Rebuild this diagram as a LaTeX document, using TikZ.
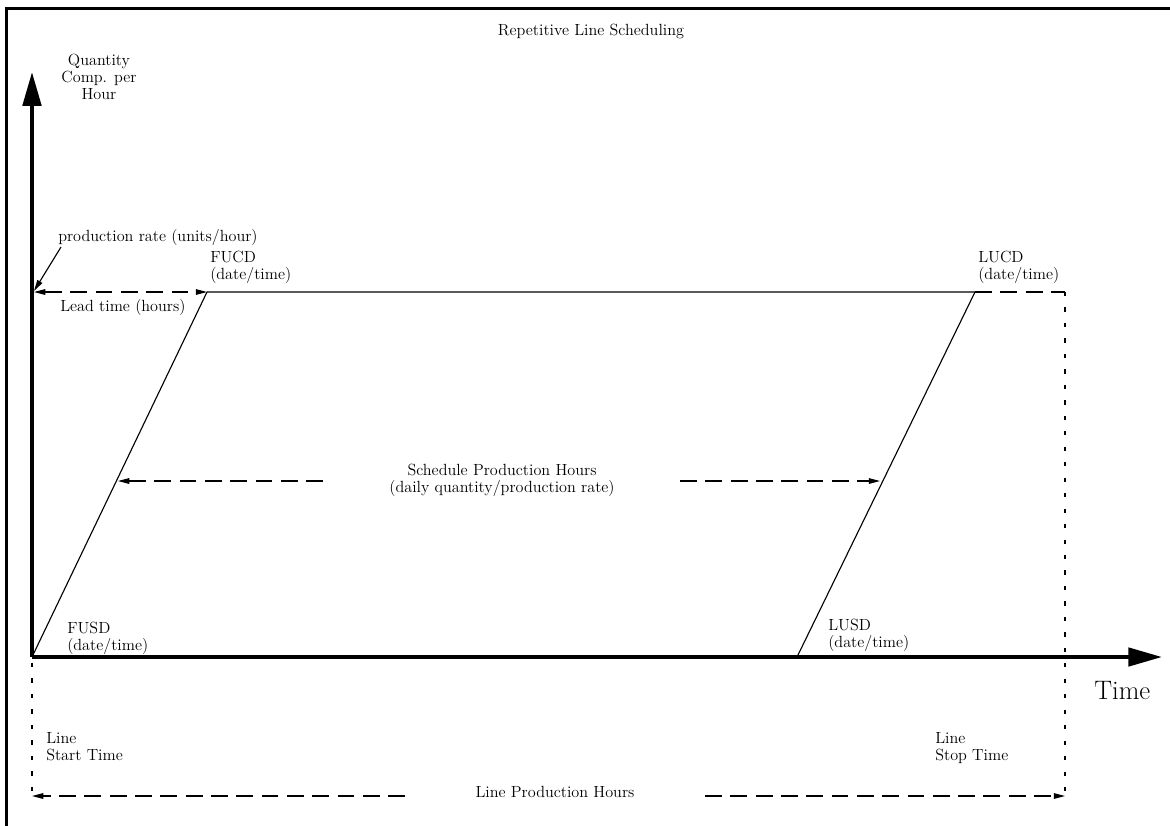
\documentclass[tikz,border=0pt]{standalone}
\usetikzlibrary{arrows.meta}

\begin{document}
\begin{tikzpicture}[x=0.025cm,y=-0.025cm,
    every node/.style={inner sep=0pt,font=\fontsize{11.5}{12}\selectfont},
    >={Triangle[length=8pt,width=4pt]}]
    \tikzstyle{frame lines}=[line width=2.1pt]
    \tikzstyle{axis lines}=[line width=2.8pt,-{Triangle[length=24pt,width=13pt]}]
    \tikzstyle{plain lines}=[line width=0.8pt]
    \tikzstyle{span lines}=[line width=0.8pt,dash pattern=on 12pt off 6pt]
    \tikzstyle{mark lines}=[line width=0.8pt,dash pattern=on 3pt off 8pt]

    \useasboundingbox (0,0) rectangle (1170,825);

    % outer frame, runs off the page on the right and bottom
    \draw[frame lines] (6.5,830) -- (6.5,8.5) -- (1175,8.5);

    % corner points of the run
    \coordinate (origin) at (32,657);
    \coordinate (ytop)   at (32,72);
    \coordinate (xtop)   at (1162,657);
    \coordinate (fucd)   at (207,292);
    \coordinate (lucd)   at (975,292);
    \coordinate (lusd)   at (797,657);
    \coordinate (stoptop) at (1065,292);
    \coordinate (stopbot) at (1065,796);
    \coordinate (startmark) at (32,663);
    \coordinate (startbot)  at (32,796);

    % labels (base anchor sits on the last line)
    \node[anchor=base] (title) at (591,35) {Repetitive Line Scheduling};
    \node[anchor=base,align=center] (qty) at (99,99) {Quantity\\Comp. per\\Hour};
    \node[anchor=base west] (rate) at (58,241) {production rate (units/hour)};
    \node[anchor=base west,align=left] (fucdtext) at (210,279) {FUCD\\(date/time)};
    \node[anchor=base west,align=left] (lucdtext) at (978,279) {LUCD\\(date/time)};
    \node[anchor=base west] (lead) at (60,311) {Lead time (hours)};
    \node[anchor=base,align=center] (sched) at (502,492) {Schedule Production Hours\\(daily quantity/production rate)};
    \node[anchor=base west,align=left] (fusdtext) at (67,650) {FUSD\\(date/time)};
    \node[anchor=base west,align=left] (lusdtext) at (828,647) {LUSD\\(date/time)};
    \node[anchor=base west,font=\fontsize{19}{22}\selectfont] (time) at (1094,699) {Time};
    \node[anchor=base west,align=left] (start) at (46,760) {Line\\Start Time};
    \node[anchor=base west,align=left] (stop) at (935,760) {Line\\Stop Time};
    \node[anchor=base] (prod) at (555,797) {Line Production Hours};

    % axes
    \draw[axis lines] (origin) -- (ytop);
    \draw[axis lines] (origin) -- (xtop);

    % run outline
    \draw[plain lines] (origin) -- (fucd) -- (lucd);
    \draw[plain lines] (lusd) -- (lucd);
    \draw[span lines] (lucd) -- (stoptop);
    \draw[mark lines] (stoptop) -- (stopbot);
    \draw[mark lines] (startmark) -- (startbot);

    % rate pointer and lead time
    \coordinate (ratefoot) at (61,247);
    \coordinate (ratetip)  at (34,291);
    \draw[plain lines,->] (ratefoot) -- (ratetip);
    \coordinate (leadstart) at (34,292);
    \draw[span lines,<->] (leadstart) -- (fucd);

    % scheduled hours
    \coordinate (schedleft)  at (323,481);
    \coordinate (schedfirst) at (118,481);
    \coordinate (schedright) at (680,481);
    \coordinate (schedlast)  at (880,481);
    \draw[span lines,->] (schedleft) -- (schedfirst);
    \draw[span lines,->] (schedright) -- (schedlast);

    % line hours
    \coordinate (prodleft)  at (405,796);
    \coordinate (prodright) at (705,796);
    \draw[span lines,->] (prodleft) -- (startbot);
    \draw[span lines,->] (prodright) -- (stopbot);
\end{tikzpicture}
\end{document}
